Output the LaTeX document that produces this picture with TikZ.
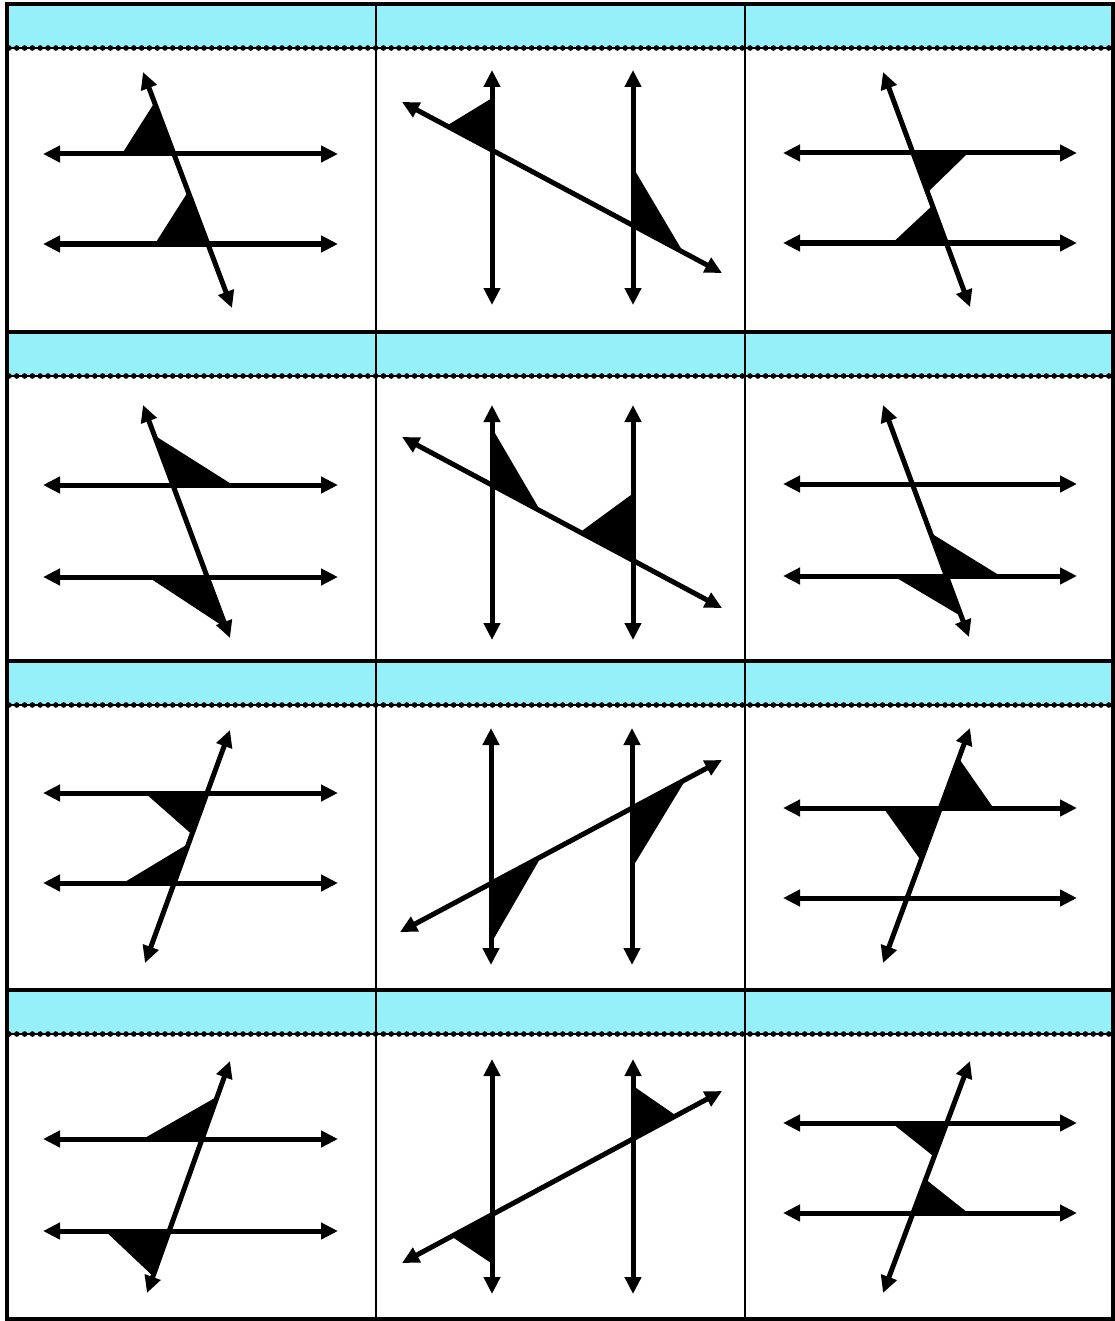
\documentclass[tikz,border=0pt]{standalone}
\usetikzlibrary{arrows.meta,calc}
\definecolor{hdr}{RGB}{150,240,250}
\tikzset{
  ln/.style={line width=2.5pt, {Triangle[length=8.5pt,width=8pt]}-{Triangle[length=8.5pt,width=8pt]}},
  mk/.style={fill=black},
  frame/.style={line width=1.6pt, draw=black},
  divider/.style={line width=1pt, draw=black},
  hdrline/.style={line width=1pt, draw=black},
  hdrdots/.style={line width=2.8pt, draw=black, line cap=round, dash pattern=on 0pt off 3.9pt},
}
\newcommand\amark[5]{\fill[mk] (#1) -- ($(#1)!#2pt!(#3)$) -- ($(#1)!#4pt!(#5)$) -- cycle;}
\newcommand\hcell[9]{%
  \coordinate (#1a1) at (#4,#2); \coordinate (#1a2) at (#5,#2);
  \coordinate (#1b1) at (#4,#3); \coordinate (#1b2) at (#5,#3);
  \coordinate (#1t1) at (#6,#7); \coordinate (#1t2) at (#8,#9);
  \coordinate (#1p) at (intersection of #1a1--#1a2 and #1t1--#1t2);
  \coordinate (#1q) at (intersection of #1b1--#1b2 and #1t1--#1t2);
}
\newcommand\vcell[9]{%
  \coordinate (#1a1) at (#2,#4); \coordinate (#1a2) at (#2,#5);
  \coordinate (#1b1) at (#3,#4); \coordinate (#1b2) at (#3,#5);
  \coordinate (#1t1) at (#6,#7); \coordinate (#1t2) at (#8,#9);
  \coordinate (#1p) at (intersection of #1a1--#1a2 and #1t1--#1t2);
  \coordinate (#1q) at (intersection of #1b1--#1b2 and #1t1--#1t2);
}
\newcommand\drawcell[1]{%
  \draw[ln] (#1a1) -- (#1a2);
  \draw[ln] (#1b1) -- (#1b2);
  \draw[ln] (#1t1) -- (#1t2);
}
\begin{document}
\begin{tikzpicture}[x=0.5pt,y=-0.5pt]
\useasboundingbox (0,0) rectangle (1114,1321);
% headers
\foreach \yy in {4,332,661,990}{
  \fill[hdr] (7,\yy) rectangle (1113,{\yy+44});
  \draw[hdrline] (7,{\yy+44}) -- (1113,{\yy+44});
  \draw[hdrdots] (9,{\yy+44}) -- (1111,{\yy+44});
  \draw[frame] (7,\yy) -- (1113,\yy);
}
\draw[divider] (376,4) -- (376,1319);
\draw[divider] (745,4) -- (745,1319);
\draw[frame] (7,4) rectangle (1113,1319);

% ---- column 1
\hcell{c11}{154}{244}{43}{338}{143}{72}{232}{308}
\amark{c11p}{26}{c11a1}{27.5}{c11t1}
\amark{c11q}{26.5}{c11b1}{28}{c11t1}
\drawcell{c11}

\hcell{c21}{485}{577}{43}{338}{143}{405}{230}{638}
\amark{c21p}{30}{c21a2}{26.5}{c21t1}
\amark{c21q}{29.5}{c21b1}{27.5}{c21t2}
\drawcell{c21}

\hcell{c31}{793}{883}{43}{338}{230}{730}{145}{963}
\amark{c31p}{31}{c31a1}{22}{c31t2}
\amark{c31q}{25.5}{c31b1}{21}{c31t1}
\drawcell{c31}

\hcell{c41}{1139}{1231}{43}{338}{230}{1061}{147}{1293}
\amark{c41p}{29.5}{c41a1}{22.5}{c41t1}
\amark{c41q}{32}{c41b1}{24}{c41t2}
\drawcell{c41}

% ---- column 2
\vcell{c12}{492}{633}{70}{305}{402}{102}{722}{273}
\amark{c12p}{26}{c12a1}{25.75}{c12t1}
\amark{c12q}{29}{c12b1}{28.5}{c12t2}
\drawcell{c12}

\vcell{c22}{492}{633}{405}{640}{402}{437}{722}{608}
\amark{c22p}{28.5}{c22a1}{27.5}{c22t2}
\amark{c22q}{33.5}{c22b1}{30}{c22t1}
\drawcell{c22}

\vcell{c32}{491}{632}{728}{965}{400}{932}{722}{760}
\amark{c32p}{30}{c32a2}{28.5}{c32t2}
\amark{c32q}{30}{c32b2}{30.5}{c32t2}
\drawcell{c32}

\vcell{c42}{492}{633}{1059}{1294}{402}{1263}{722}{1091}
\amark{c42p}{24.5}{c42a2}{23}{c42t1}
\amark{c42q}{26.5}{c42b1}{24.5}{c42t2}
\drawcell{c42}

% ---- column 3
\hcell{c13}{153}{243}{783}{1077}{883}{72}{970}{307}
\amark{c13p}{27.5}{c13a2}{21}{c13t2}
\amark{c13q}{27}{c13b1}{20}{c13t1}
\drawcell{c13}

\hcell{c23}{484}{576}{783}{1077}{883}{405}{969}{637}
\amark{c23q}{27}{c23b2}{23}{c23t1}
\amark{c23q}{26.5}{c23b1}{21.5}{c23t2}
\drawcell{c23}

\hcell{c33}{808}{898}{783}{1077}{970}{728}{883}{963}
\amark{c33p}{26.5}{c33a2}{26.5}{c33t1}
\amark{c33p}{28.5}{c33a1}{28}{c33t2}
\drawcell{c33}

\hcell{c43}{1123}{1213}{783}{1077}{970}{1061}{883}{1293}
\amark{c43p}{27.5}{c43a1}{18}{c43t2}
\amark{c43q}{27.5}{c43b2}{18}{c43t1}
\drawcell{c43}
\end{tikzpicture}
\end{document}
